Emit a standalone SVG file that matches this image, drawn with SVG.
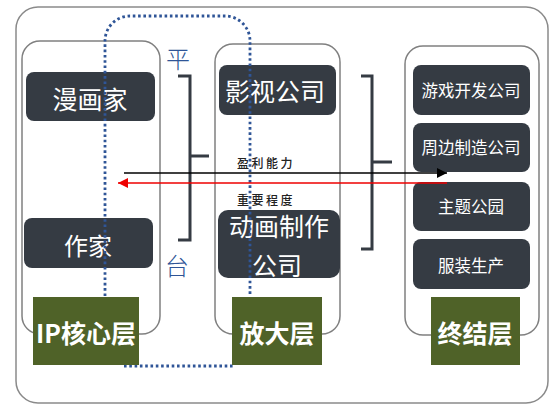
<svg xmlns="http://www.w3.org/2000/svg" width="560" height="412" viewBox="0 0 560 412">
<defs>
<style>
.frame{fill:#fff;stroke:#8a8a8a;stroke-width:1.5}
.panel{fill:#fff;stroke:#808080;stroke-width:1.5}
.node{fill:#353b43}
.ntxt{fill:#fff;font-family:"Noto Sans CJK SC","Microsoft YaHei",sans-serif;text-anchor:middle;dominant-baseline:central}
.layer{fill:#4f6228}
.ltxt{fill:#fff;font-family:"Noto Sans CJK SC",sans-serif;font-weight:bold;font-size:25px;text-anchor:middle;dominant-baseline:central}
.brk{fill:none;stroke:#353b43;stroke-width:3}
.dot{fill:none;stroke:#2f5597;stroke-width:2.8;stroke-dasharray:2.6 2.7}
.blue{fill:#2f5597;font-family:"Noto Sans CJK SC",serif;font-size:24px;font-weight:300;text-anchor:middle;dominant-baseline:central}
.lbl{fill:#222;font-family:"Noto Sans CJK SC",serif;font-size:12px;font-weight:500;letter-spacing:2.5px;text-anchor:middle}
</style>
<marker id="ab" viewBox="0 0 10 10" refX="10" refY="5" markerWidth="10" markerHeight="10" markerUnits="userSpaceOnUse" orient="auto"><path d="M0 0L10 5L0 10Z" fill="#000"/></marker>
<marker id="ar" viewBox="0 0 10 10" refX="10" refY="5" markerWidth="10" markerHeight="10" markerUnits="userSpaceOnUse" orient="auto"><path d="M0 0L10 5L0 10Z" fill="#e00"/></marker>
</defs>
<rect class="frame" x="16" y="7" width="532" height="396" rx="22"/>
<g id="panels">
<rect class="panel" x="22" y="41" width="138" height="293" rx="18"/>
<rect class="panel" x="215" y="44" width="125" height="290" rx="18"/>
<rect class="panel" x="405" y="46" width="134" height="289" rx="18"/>
</g>
<g id="n-manhuajia"><rect class="node" x="26" y="72" width="129" height="49" rx="8"/><text class="ntxt" x="90" y="98" font-size="25">漫画家</text></g>
<g id="n-zuojia"><rect class="node" x="24" y="218" width="129" height="50" rx="8"/><text class="ntxt" x="88" y="244" font-size="24">作家</text></g>
<g id="n-yingshi"><rect class="node" x="219" y="65" width="117" height="50" rx="8"/><text class="ntxt" x="275" y="90" font-size="25">影视公司</text></g>
<g id="n-donghua"><rect class="node" x="218" y="210" width="122" height="68" rx="10"/><text class="ntxt" x="279" y="225" font-size="25">动画制作</text><text class="ntxt" x="277" y="264" font-size="25">公司</text></g>
<g id="n-youxi"><rect class="node" x="413" y="65" width="117" height="50" rx="8"/><text class="ntxt" x="471" y="90" font-size="16.5">游戏开发公司</text></g>
<g id="n-zhoubian"><rect class="node" x="413" y="123" width="117" height="49" rx="8"/><text class="ntxt" x="471" y="147" font-size="16.5">周边制造公司</text></g>
<g id="n-zhuti"><rect class="node" x="413" y="182" width="117" height="49" rx="8"/><text class="ntxt" x="471" y="206" font-size="16.5">主题公园</text></g>
<g id="n-fuzhuang"><rect class="node" x="413" y="239" width="117" height="50" rx="8"/><text class="ntxt" x="471" y="265" font-size="16.5">服装生产</text></g>
<g id="connectors">
<path class="brk" d="M178 76H190V240H178M190 156H209"/>
<path class="brk" d="M361 76H372V249H361M372 162H392"/>
<path class="dot" d="M105 296V41A25 25 0 0 1 130 16H225A25 25 0 0 1 250 41V296"/>
<path class="dot" d="M124 366H233"/>
<line x1="124" y1="173" x2="447" y2="173" stroke="#000" stroke-width="1.5" marker-end="url(#ab)"/>
<line x1="447" y1="183" x2="118" y2="183" stroke="#e00" stroke-width="1.5" marker-end="url(#ar)"/>
<text class="lbl" x="266" y="168">盈利能力</text>
<text class="lbl" x="266" y="205">重要程度</text>
</g>
<text class="blue" x="178" y="57">平</text>
<text class="blue" x="177" y="264">台</text>
<g id="l-ip"><rect class="layer" x="33" y="297" width="106" height="68"/><text class="ltxt" x="86" y="332" textLength="100" lengthAdjust="spacingAndGlyphs">IP核心层</text></g>
<g id="l-fangda"><rect class="layer" x="232" y="297" width="90" height="68"/><text class="ltxt" x="277" y="332">放大层</text></g>
<g id="l-zhongjie"><rect class="layer" x="431" y="297" width="89" height="68"/><text class="ltxt" x="475" y="332">终结层</text></g>
</svg>
